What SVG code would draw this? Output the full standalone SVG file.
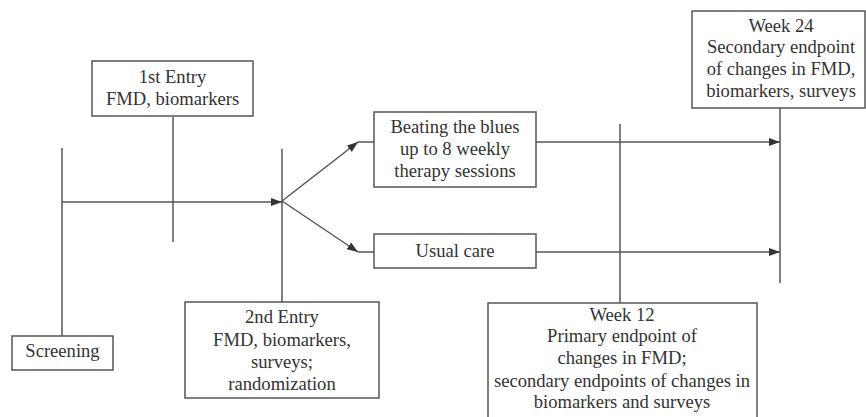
<svg xmlns="http://www.w3.org/2000/svg" width="866" height="417" viewBox="0 0 866 417">
<style>
.box{fill:#fff;stroke:#555;stroke-width:1.5}
.ln{fill:none;stroke:#555;stroke-width:1.5}
.t{font-family:"Liberation Serif","Times New Roman",serif;font-size:18.6px;fill:#333;text-anchor:middle}
</style>
<defs>
<marker id="ah" markerUnits="userSpaceOnUse" markerWidth="12" markerHeight="9" refX="11" refY="4" orient="auto">
<path d="M0,0 L11,4 L0,8 z" fill="#333"/>
</marker>
</defs>
<rect width="866" height="417" fill="#fff"/>
<g id="connectors">
<line class="ln" x1="62" y1="148" x2="62" y2="336"/>
<line class="ln" x1="173" y1="117" x2="173" y2="242"/>
<line class="ln" x1="282" y1="149" x2="282" y2="302"/>
<line class="ln" x1="620" y1="124" x2="620" y2="303"/>
<line class="ln" x1="780" y1="108" x2="780" y2="283"/>
<line class="ln" x1="62" y1="202" x2="282" y2="202" marker-end="url(#ah)"/>
<line class="ln" x1="282" y1="201" x2="358" y2="142" marker-end="url(#ah)"/>
<line class="ln" x1="358" y1="142" x2="374" y2="142"/>
<line class="ln" x1="282" y1="201" x2="358" y2="252" marker-end="url(#ah)"/>
<line class="ln" x1="358" y1="252" x2="374" y2="252"/>
<line class="ln" x1="536" y1="142" x2="780" y2="142" marker-end="url(#ah)"/>
<line class="ln" x1="536" y1="252" x2="780" y2="252" marker-end="url(#ah)"/>
</g>
<g id="entry1">
<rect class="box" x="92" y="61" width="161" height="55"/>
<text class="t" x="172.5" y="83">1st Entry</text>
<text class="t" x="172.5" y="105">FMD, biomarkers</text>
</g>
<g id="screening">
<rect class="box" x="12" y="336" width="101" height="34"/>
<text class="t" x="62.5" y="357">Screening</text>
</g>
<g id="entry2">
<rect class="box" x="185" y="302" width="194" height="96"/>
<text class="t" x="282" y="323">2nd Entry</text>
<text class="t" x="282" y="346">FMD, biomarkers,</text>
<text class="t" x="282" y="368">surveys;</text>
<text class="t" x="282" y="390">randomization</text>
</g>
<g id="beating">
<rect class="box" x="374" y="112" width="162" height="75"/>
<text class="t" x="455" y="133">Beating the blues</text>
<text class="t" x="455" y="155">up to 8 weekly</text>
<text class="t" x="455" y="177">therapy sessions</text>
</g>
<g id="usualcare">
<rect class="box" x="374" y="234" width="162" height="34"/>
<text class="t" x="455" y="257">Usual care</text>
</g>
<g id="week12">
<rect class="box" x="488" y="303" width="269" height="120"/>
<text class="t" x="622" y="321">Week 12</text>
<text class="t" x="622" y="342">Primary endpoint of</text>
<text class="t" x="622" y="364">changes in FMD;</text>
<text class="t" x="622" y="387">secondary endpoints of changes in</text>
<text class="t" x="622" y="408">biomarkers and surveys</text>
</g>
<g id="week24">
<rect class="box" x="692" y="11" width="173" height="97"/>
<text class="t" x="781" y="32">Week 24</text>
<text class="t" x="781" y="53">Secondary endpoint</text>
<text class="t" x="781" y="75">of changes in FMD,</text>
<text class="t" x="781" y="97">biomarkers, surveys</text>
</g>
</svg>
